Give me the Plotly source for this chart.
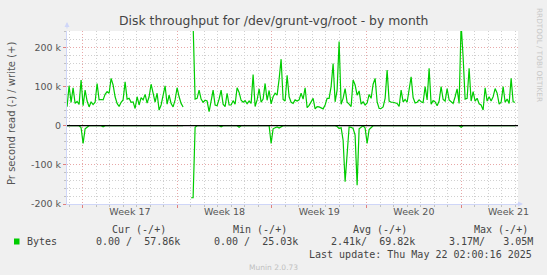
import pandas as pd
import numpy as np
import plotly.graph_objects as go

# ---- data (values in thousands of bytes/s), sampled every 213 minutes ----
start_time = "2025-04-19 20:30"
n_points = 225
sample_freq = "213min"

write_k = [
    48.6, 102, 59.6, 97, 57, 62, 54.5, 117, 51, 91, 63, 48, 61, 54, 60,
    108, 66, 67, 66, 80, 87, 83, 121, 104, 74, 57, 49, 60, 66, 112,
    68, 70, 60, 61, 44, 74, 53, 72, 66, 80, 58, 74, 106, 83, 60,
    83, 40, 53, 83, 102, 55, 78, 57, 48, 66, 97, 74, 57,
    48, None, None, None, 260, 260, 68, 70, 91, 68, 60, 65, 63, 36, 63,
    91, 53, 51, 68, 91, 55, 49, 83, 53, 53, 64, 55, 97, 85, 65,
    60, 64, 56, 63, 57, 131, 49, 66, 94, 60, 68, 108, 65, 90, 56,
    74, 83, 78, 119, 170, 67, 63, 129, 74, 60, 57, 66,
    63, 66, 83, 68, 97, 46, 52, 61, 70, 43, 49, 48, 46, 43, 53,
    70, 70, 100, 159, 61, 91, 215, 55, 70, 95, 60, 55, 49, 117, 104,
    78, 89, 55, 61, 53, 58, 80, 70, 106, 121, 61, 44, 44, 48, 70,
    142, 63, 60, 60, 58, 57, 49, 91, 61, 67, 60, 97,
    125, 72, 58, 60, 66, 61, 59, 100, 66, 147, 55, 64, 61, 51, 63,
    100, 67, 63, 95, 66, 61, 57, 74, 94, 57, 260, 175, 68, 70, 147,
    63, 87, 63, 70, 56, 53, 40, 97, 63, 74, 63, 74, 95, 83, 55,
    60, 100, 60, 68, 57, 121, 61, 60,
]

read_k = [
    0, 0, 0, 0, 0, 0, 0, 5, 45, 8, 4, 0, 0, 0, 0,
    0, 0, 0, 3, 0, 0, 0, 0, 0, 0, 0, 0, 0, 0, 0,
    0, 0, 0, 0, 0, 0, 0, 0, 0, 0, 0, 0, 0, 0, 0,
    0, 0, 0, 0, 0, 0, 0, 0, 0, 0, 0, 0, 0, 0, None,
    None, None, 184, 184, 4, 0, 0, 0, 0, 0, 0, 0, 0, 0, 0,
    0, 0, 3, 0, 0, 0, 0, 0, 0, 0, 0, 4, 0, 0, 0,
    0, 0, 0, 0, 0, 0, 0, 0, 0, 0, 0, 0, 45, 8, 5,
    3, 6, 2, 0, 0, 0, 0, 0, 0, 0, 0, 0, 0, 0, 0,
    0, 0, 0, 0, 0, 0, 0, 0, 0, 0, 0, 0, 0, 0, 0,
    2, 7, 5, 37, 143, 60, 3, 4, 7, 24, 152, 8, 3, 0, 6,
    45, 10, 4, 0, 0, 0, 0, 0, 0, 0, 0, 0, 0, 0, 0,
    0, 0, 0, 0, 0, 0, 0, 0, 0, 0, 0, 0, 0, 0, 0,
    0, 0, 0, 0, 0, 0, 0, 0, 0, 0, 0, 0, 0, 0, 0,
    0, 0, 4, 0, 0, 0, 0, 0, 0, 0, 0, 0, 0, 0, 0,
    0, 0, 0, 0, 0, 0, 0, 0, 0, 0, 0, 0, 0, 0, 0,
]

week_starts = ["2025-04-21", "2025-04-28", "2025-05-05", "2025-05-12", "2025-05-19"]
week_mids = ["2025-04-24 12:00", "2025-05-01 12:00", "2025-05-08 12:00",
             "2025-05-15 12:00", "2025-05-22 12:00"]
week_labels = ["Week 17", "Week 18", "Week 19", "Week 20", "Week 21"]
x_range = ["2025-04-19 20:20", "2025-05-23 04:48"]

y_tickvals = [-200000, -100000, 0, 100000, 200000]
y_ticktext = ["-200 k", "-100 k", "0", "100 k", "200 k"]
y_range = [-200000, 242000]

title = "Disk throughput for /dev/grunt-vg/root - by month"
y_title = "Pr second read (-) / write (+)"
series_name = "Bytes"
legend_headers = ["Cur (-/+)", "Min (-/+)", "Avg (-/+)", "Max (-/+)"]
legend_values = ["0.00 /  57.86k", "0.00 /  25.03k", "2.41k/  69.82k", "3.17M/   3.05M"]
last_update = "Last update: Thu May 22 02:00:16 2025"
footer = "Munin 2.0.73"
watermark = "RRDTOOL / TOBI OETIKER"

# ---- build ----
times = pd.date_range(start_time, periods=n_points, freq=sample_freq)
write = np.array([np.nan if v is None else v * 1000 for v in write_k])
read = np.array([np.nan if v is None else -v * 1000 for v in read_k])

GREEN = "#00CC00"
AXIS = "#CFD6F8"
MINOR = "#D0D0D0"
MAJOR = "#E8A8A8"

fig = go.Figure()
fig.add_trace(go.Scatter(x=times, y=read, mode="lines", line=dict(color=GREEN, width=1.2),
                         showlegend=False, hoverinfo="skip", connectgaps=False))
fig.add_trace(go.Scatter(x=times, y=write, mode="lines", line=dict(color=GREEN, width=1.2),
                         showlegend=False, hoverinfo="skip", connectgaps=False))
fig.add_trace(go.Scatter(x=week_mids, y=[None] * len(week_mids), xaxis="x2",
                         mode="lines", showlegend=False, hoverinfo="skip"))

fig.add_hline(y=0, line=dict(color="black", width=1.2), layer="above")

W, H = 547, 275
L, R, T, B = 67, 29, 31, 71
pw, ph = W - L - R, H - T - B


def px(x):
    return (x - L) / pw


def py(y):
    return (H - B - y) / ph


SANS = "DejaVu Sans"
MONO = "DejaVu Sans Mono"
TXT = "#444"


def label(x, y, text, family, size, color, xanchor="center", angle=0):
    return dict(x=px(x), y=py(y), text=text, showarrow=False, xref="paper", yref="paper",
                xanchor=xanchor, yanchor="middle", borderpad=0, textangle=angle,
                font=dict(family=family, size=size, color=color))


nb = lambda s: s.replace(" ", "\u00a0")
ann = []
ann.append(label(273, 20, title, SANS, 12.4, "#444"))
ann.append(label(11, 114, y_title, SANS, 10, "#555", angle=-90))
ann.append(label(540, 55, watermark, SANS, 7.3, "#C8C8C8", angle=90))
header_x = [111, 231.5, 352, 473]
value_x = [95, 213, 330, 448]
for hx, htxt in zip(header_x, legend_headers):
    ann.append(label(hx, 229, nb(htxt), MONO, 10, TXT, xanchor="left"))
for vx, vtxt in zip(value_x, legend_values):
    ann.append(label(vx, 241.5, nb(vtxt), MONO, 10, TXT, xanchor="left"))
ann.append(label(26, 241.5, series_name, MONO, 10, TXT, xanchor="left"))
ann.append(label(533, 254, nb(last_update), MONO, 10, TXT, xanchor="right"))
ann.append(label(273, 267, footer, SANS, 7.5, "#C0C0C0"))
# axis arrows
ann.append(dict(x=px(523), y=0, xref="paper", yref="paper", ax=-8, ay=0, text="",
                showarrow=True, arrowhead=2, arrowsize=1, arrowwidth=1, arrowcolor=AXIS))
ann.append(dict(x=0, y=py(22), xref="paper", yref="paper", ax=0, ay=8, text="",
                showarrow=True, arrowhead=2, arrowsize=1, arrowwidth=1, arrowcolor=AXIS))

fig.add_shape(type="rect", xref="paper", yref="paper", x0=px(14), x1=px(19.5), y0=py(238.5), y1=py(244.5),
              fillcolor=GREEN, line=dict(width=0))

fig.update_layout(
    width=W, height=H,
    margin=dict(l=L, r=R, t=T, b=B, pad=0),
    paper_bgcolor="#F0F0F0", plot_bgcolor="white",
    showlegend=False,
    annotations=ann,
    xaxis=dict(type="date", range=x_range, tickvals=week_starts, showticklabels=False,
               showgrid=True, gridcolor=MAJOR, griddash="1px,2px", gridwidth=1,
               ticks="outside", ticklen=3, tickcolor="#E08080",
               minor=dict(dtick=86400000, tick0="2025-04-21", showgrid=True, gridcolor=MINOR,
                          griddash="1px,2px", ticks="outside", ticklen=2, tickcolor="#C0C0C0"),
               showline=True, linecolor=AXIS, linewidth=1, zeroline=False, fixedrange=True),
    xaxis2=dict(type="date", overlaying="x", side="bottom", range=x_range, tickvals=week_mids,
                ticktext=week_labels, showgrid=False, showline=False, ticks="", zeroline=False,
                tickfont=dict(family=SANS, size=9.5, color="#555")),
    yaxis=dict(range=y_range, tickvals=y_tickvals, ticktext=y_ticktext,
               showgrid=True, gridcolor=MAJOR, griddash="1px,2px", gridwidth=1,
               ticks="outside", ticklen=3, tickcolor="#E08080",
               minor=dict(dtick=20000, tick0=0, showgrid=True, gridcolor=MINOR,
                          griddash="1px,2px", ticks="outside", ticklen=2, tickcolor="#C0C0C0"),
               showline=True, linecolor=AXIS, linewidth=1, zeroline=False,
               tickfont=dict(family=SANS, size=9.5, color="#555"), fixedrange=True),
)

fig.write_html("out.html")
